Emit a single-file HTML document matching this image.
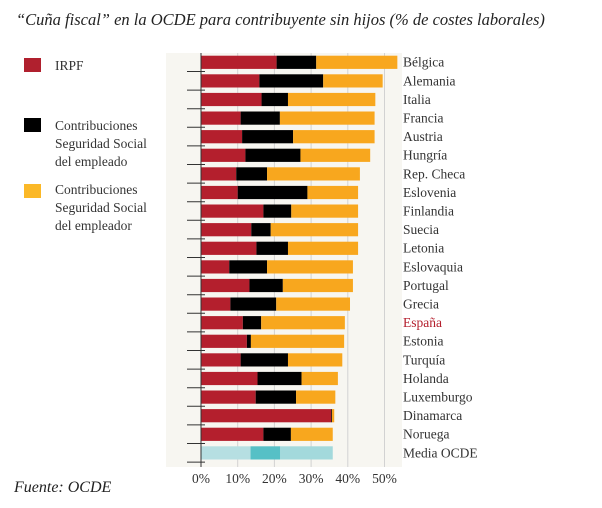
<!DOCTYPE html>
<html><head><meta charset="utf-8"><style>
body{margin:0;background:#fff;width:602px;height:503px;overflow:hidden;font-family:"Liberation Serif",serif;}
svg text{font-family:"Liberation Serif",serif;}
</style></head><body>
<svg id="chart" width="602" height="503" xmlns="http://www.w3.org/2000/svg">
<rect x="166" y="53" width="236" height="414" fill="#f7f6f1"/>
<text x="16" y="25" font-size="16.5" font-style="italic" fill="#222">“Cuña fiscal” en la OCDE para contribuyente sin hijos (% de costes laborales)</text>
<g>
<rect x="24" y="58" width="17" height="14" fill="#b0202e"/>
<text x="55" y="70" font-size="13.5" fill="#333">IRPF</text>
<rect x="24" y="118" width="17" height="14" fill="#000"/>
<text font-size="13.5" fill="#333"><tspan x="55" y="130">Contribuciones</tspan><tspan x="55" y="148">Seguridad Social</tspan><tspan x="55" y="166">del empleado</tspan></text>
<rect x="24" y="184" width="17" height="14" fill="#fbb827"/>
<text font-size="13.5" fill="#333"><tspan x="55" y="194">Contribuciones</tspan><tspan x="55" y="212">Seguridad Social</tspan><tspan x="55" y="230">del empleador</tspan></text>
</g>
<g id="grid"></g><g id="bars"></g><g id="axis"></g>
<text x="14" y="492" font-size="16" font-style="italic" fill="#222">Fuente: OCDE</text>
</svg>
<script>
const countries=["Bélgica","Alemania","Italia","Francia","Austria","Hungría","Rep. Checa","Eslovenia","Finlandia","Suecia","Letonia","Eslovaquia","Portugal","Grecia","España","Estonia","Turquía","Holanda","Luxemburgo","Dinamarca","Noruega","Media OCDE"];
const irpf=[20.6,15.9,16.5,10.8,11.2,12.1,9.6,10,17,13.7,15.1,7.7,13.2,8,11.4,12.5,10.8,15.4,14.9,35.5,17,13.5];
const employee=[10.8,17.4,7.2,10.7,13.9,15,8.4,19,7.6,5.3,8.6,10.3,9.1,12.5,5,1.1,12.9,12,11,0.2,7.5,8.1];
const employer=[22.1,16.2,23.8,25.8,22.2,19,25.3,13.8,18.2,23.8,19.1,23.4,19.1,20.1,22.8,25.4,14.8,9.9,10.7,0.6,11.4,14.3];
const ticks=[0,10,20,30,40,50];
const ns="http://www.w3.org/2000/svg";
const X=v=>201+v*3.67;
const rowY=i=>55.7+i*18.6;
const BH=13.2;
function mk(t,a,p){const e=document.createElementNS(ns,t);for(const k in a)e.setAttribute(k,a[k]);p.appendChild(e);return e;}
const grid=document.getElementById('grid'),bars=document.getElementById('bars'),axis=document.getElementById('axis');
ticks.forEach(t=>{
 if(t>0){const l=mk('line',{x1:X(t),x2:X(t),y1:53,y2:467,stroke:'#d2d2d2','stroke-width':1},grid);
 
 }
 const tx=mk('text',{x:X(t),y:483,'font-size':13.5,fill:'#333','text-anchor':'middle'},axis);
 tx.textContent=t+'%';
 
 
});
const al=mk('line',{x1:201,x2:201,y1:53,y2:467,stroke:'#333','stroke-width':1},axis);


countries.forEach((c,i)=>{
 const y=rowY(i);const avg=i===countries.length-1;
 const segs=[[0,irpf[i],avg?'#b6dfe2':'#b41f2d'],[irpf[i],irpf[i]+employee[i],avg?'#56c0c6':'#000'],[irpf[i]+employee[i],irpf[i]+employee[i]+employer[i],avg?'#a3d9dc':'#f8a71e']];
 const names=['irpf','employee','employer'];
 segs.forEach((s,j)=>{
  const r=mk('rect',{x:X(s[0]),y:y,width:Math.max(0,X(s[1])-X(s[0])),height:BH,fill:s[2]},bars);
  
  
 });
 const tl=mk('line',{x1:187,x2:205,y1:y+BH+2.6,y2:y+BH+2.6,stroke:'#333','stroke-width':1},axis);
 
 
 const tx=mk('text',{x:403,y:y+11,'font-size':13.5,fill:c==='España'?'#b41f2d':'#333'},axis);
 tx.textContent=c;
 
 
});
</script>
</body></html>
